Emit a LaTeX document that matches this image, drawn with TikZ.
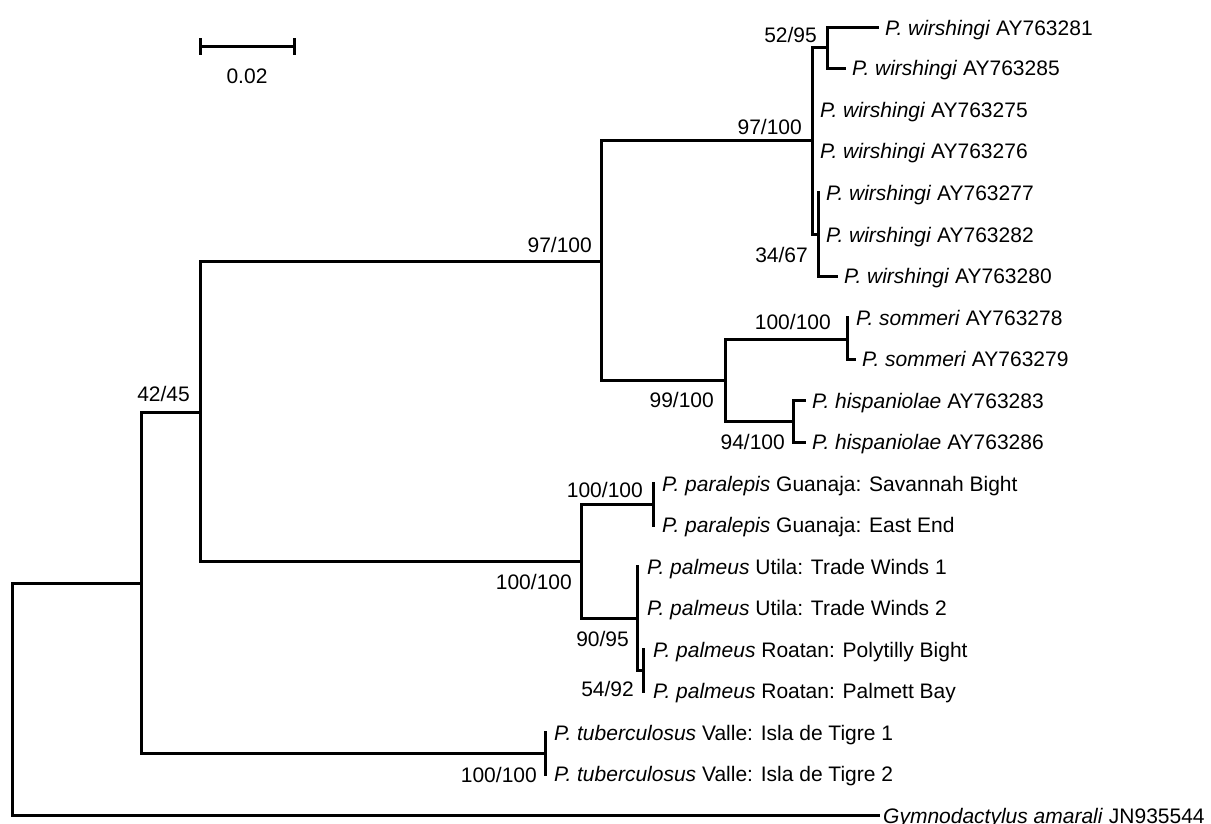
\documentclass[tikz,border=0pt]{standalone}
\usepackage{fontspec}
\setmainfont{Liberation Sans}
\begin{document}
\begin{tikzpicture}[x=1pt,y=-1pt,
  br/.style={line width=3pt, line cap=rect},
  tip/.style={anchor=west, inner xsep=8pt, inner ysep=0pt, text height=15pt, text depth=0pt, font=\fontsize{21}{25}\selectfont},
  bs/.style={anchor=east, inner sep=0pt, text height=15pt, text depth=0pt, font=\fontsize{21}{25}\selectfont}]
\useasboundingbox (0,0) rectangle (1211,824);
% internal nodes
\coordinate (nRoot) at (12,699);
\coordinate (nQ) at (141.6,583);
\coordinate (nI) at (200,412);
\coordinate (nA) at (601,261);
\coordinate (nW) at (812,141);
\coordinate (n52) at (827,48);
\coordinate (n34) at (818,234.5);
\coordinate (nB) at (725.7,380.5);
\coordinate (nS) at (847,339);
\coordinate (nH) at (793,421);
\coordinate (nC) at (581,561);
\coordinate (nP) at (653,504);
\coordinate (nM) at (637,618);
\coordinate (nR) at (643,670);
\coordinate (nT) at (545.7,753);
% tips
\node[tip] (t281) at (877,28) {\textit{P. wirshingi} AY763281};
\node[tip] (t285) at (844,68.5) {\textit{P. wirshingi} AY763285};
\node[tip] (t275) at (812,110) {\textit{P. wirshingi} AY763275};
\node[tip] (t276) at (812,151.5) {\textit{P. wirshingi} AY763276};
\node[tip] (t277) at (818,193) {\textit{P. wirshingi} AY763277};
\node[tip] (t282) at (818,234.5) {\textit{P. wirshingi} AY763282};
\node[tip] (t280) at (836,276) {\textit{P. wirshingi} AY763280};
\node[tip] (t278) at (848,317.5) {\textit{P. sommeri} AY763278};
\node[tip] (t279) at (854,359) {\textit{P. sommeri} AY763279};
\node[tip] (t283) at (804,400.5) {\textit{P. hispaniolae} AY763283};
\node[tip] (t286) at (804,442) {\textit{P. hispaniolae} AY763286};
\node[tip] (tPa1) at (654,483.5) {\textit{P. paralepis} Guanaja: Savannah Bight};
\node[tip] (tPa2) at (654,525) {\textit{P. paralepis} Guanaja: East End};
\node[tip] (tU1) at (639,566.5) {\textit{P. palmeus} Utila: Trade Winds 1};
\node[tip] (tU2) at (639,608) {\textit{P. palmeus} Utila: Trade Winds 2};
\node[tip] (tR1) at (645,649.5) {\textit{P. palmeus} Roatan: Polytilly Bight};
\node[tip] (tR2) at (645,691) {\textit{P. palmeus} Roatan: Palmett Bay};
\node[tip] (tT1) at (546,732.5) {\textit{P. tuberculosus} Valle: Isla de Tigre 1};
\node[tip] (tT2) at (546,774) {\textit{P. tuberculosus} Valle: Isla de Tigre 2};
\node[tip, inner xsep=5pt] (tG) at (878,815.5) {\textit{Gymnodactylus amarali} JN935544};
% branches
\draw[br] (nRoot |- nQ) -- (nRoot |- tG);
\draw[br] (nRoot |- nQ) -- (nQ);
\draw[br] (nRoot |- tG) -- (tG.west);
\draw[br] (nQ |- nI) -- (nQ |- nT);
\draw[br] (nQ |- nI) -- (nI);
\draw[br] (nQ |- nT) -- (nT);
\draw[br] (nI |- nA) -- (nI |- nC);
\draw[br] (nI |- nA) -- (nA);
\draw[br] (nI |- nC) -- (nC);
\draw[br] (nA |- nW) -- (nA |- nB);
\draw[br] (nA |- nW) -- (nW);
\draw[br] (nA |- nB) -- (nB);
\draw[br] (nW |- n52) -- (nW |- n34);
\draw[br] (nW |- n52) -- (n52);
\draw[br] (nW |- n34) -- (n34);
\draw[br] (n52 |- t281) -- (n52 |- t285);
\draw[br] (n52 |- t281) -- (t281.west);
\draw[br] (n52 |- t285) -- (t285.west);
\draw[br] (n34 |- t277) -- (n34 |- t280);
\draw[br] (n34 |- t280) -- (t280.west);
\draw[br] (nB |- nS) -- (nB |- nH);
\draw[br] (nB |- nS) -- (nS);
\draw[br] (nB |- nH) -- (nH);
\draw[br] (nS |- t278) -- (nS |- t279);
\draw[br] (nS |- t279) -- (t279.west);
\draw[br] (nH |- t283) -- (nH |- t286);
\draw[br] (nH |- t283) -- (t283.west);
\draw[br] (nH |- t286) -- (t286.west);
\draw[br] (nC |- nP) -- (nC |- nM);
\draw[br] (nC |- nP) -- (nP);
\draw[br] (nC |- nM) -- (nM);
\draw[br] (nP |- tPa1) -- (nP |- tPa2);
\draw[br] (nM |- tU1) -- (nM |- nR);
\draw[br] (nM |- nR) -- (nR);
\draw[br] (nR |- tR1) -- (nR |- tR2);
\draw[br] (nT |- tT1) -- (nT |- tT2);
% support values
\node[bs] (l52) at (817,35) {52/95};
\node[bs] (l97w) at (802,127) {97/100};
\node[bs] (l34) at (808,255) {34/67};
\node[bs] (l97a) at (592,245) {97/100};
\node[bs] (l100s) at (831,322) {100/100};
\node[bs] (l99) at (714,400) {99/100};
\node[bs] (l94) at (785,442) {94/100};
\node[bs] (l100p) at (643,490) {100/100};
\node[bs] (l100c) at (572,582) {100/100};
\node[bs] (l90) at (629,639) {90/95};
\node[bs] (l54) at (634,689) {54/92};
\node[bs] (l42) at (190,394) {42/45};
\node[bs] (l100t) at (537,775) {100/100};
% scale bar
\coordinate (sb1) at (200,47);
\coordinate (sb2) at (294,47);
\draw[br] (sb1) -- (sb2);
\draw[br] ([yshift=7pt]sb1) -- ([yshift=-7pt]sb1);
\draw[br] ([yshift=7pt]sb2) -- ([yshift=-7pt]sb2);
\node[bs, anchor=center] (sbl) at (247,76) {0.02};
\end{tikzpicture}
\end{document}
